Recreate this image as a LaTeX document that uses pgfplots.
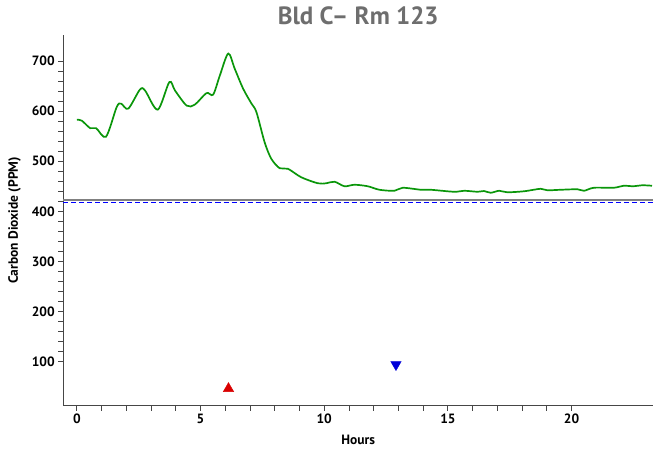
\documentclass[border={5bp 3bp 1bp 3bp}]{standalone}
\usepackage{pgfplots}
\pgfplotsset{compat=1.18}
\usepackage{fontspec}
\setmainfont{PT Sans}
\definecolor{cogreen}{RGB}{10,150,10}
\definecolor{axgray}{RGB}{70,70,70}
\definecolor{titlegray}{RGB}{110,110,110}
\definecolor{refgray}{RGB}{128,128,128}
\begin{document}
\begin{tikzpicture}
\begin{axis}[
  scale only axis,
  width=589bp, height=370bp,
  xmin=-0.55, xmax=23.3,
  ymin=12, ymax=752,
  axis x line=bottom, axis y line=left,
  axis line style={-, axgray, line width=1.2pt},
  tick align=outside,
  xtick={0,5,10,15,20},
  ytick={100,200,...,700},
  minor x tick num=4,
  minor y tick num=4,
  major tick length=5bp, minor tick length=5bp,
  tick style={axgray, line width=0.9pt},
  tick label style={font=\fontsize{13.5}{15}\selectfont\bfseries},
  /pgf/number format/assume math mode=true,
  title={\fontsize{25}{28}\selectfont\bfseries\color{titlegray}Bld C– Rm 123},
  title style={yshift=1bp},
  xlabel={\bfseries Hours},
  ylabel={\bfseries Carbon Dioxide (PPM)},
  label style={font=\fontsize{13.5}{15}\selectfont},
  xlabel style={yshift=-4bp},
  ylabel style={yshift=4bp},
  clip=false,
]
\addplot[refgray, line width=1.5pt] coordinates {(-0.55,423) (23.3,423)};
\addplot[blue, line width=1.5pt, dash pattern=on 5bp off 3bp] coordinates {(-0.55,418) (23.3,418)};
\addplot[cogreen, line width=1.7pt, smooth, tension=0.5] coordinates {
(0,583) (0.2,581) (0.54,566) (0.78,566) (1.18,549) (1.61,608) (1.79,615) (2.08,605)
(2.55,643) (2.76,641) (3.27,603) (3.74,658) (3.97,641) (4.44,611) (4.77,613)
(5.24,636) (5.51,633) (5.78,671) (6.12,715) (6.38,685) (6.72,645) (7.06,615)
(7.26,598) (7.59,538) (7.86,505) (8.2,486) (8.53,485) (9.07,468) (9.74,456)
(10.08,456) (10.42,459) (10.82,450) (11.22,453) (11.76,450) (12.23,443)
(12.84,441) (13.17,447) (13.91,443) (14.31,443) (15.25,439) (15.66,441)
(16.2,439) (16.46,440.5) (16.73,437) (17.07,441) (17.4,438) (18.08,440)
(18.75,445) (19.02,442) (19.56,443) (20.23,444) (20.5,441) (20.9,447)
(21.7,447) (22.1,451) (22.5,450) (22.85,452) (23.25,451)
};
\addplot[only marks, mark=triangle*, mark size=6bp, color=red!85!black] coordinates {(6.13,46)};
\addplot[only marks, mark=triangle*, mark size=6bp, color=blue!85!black, mark options={rotate=180}] coordinates {(12.9,94)};
\end{axis}
\end{tikzpicture}
\end{document}
